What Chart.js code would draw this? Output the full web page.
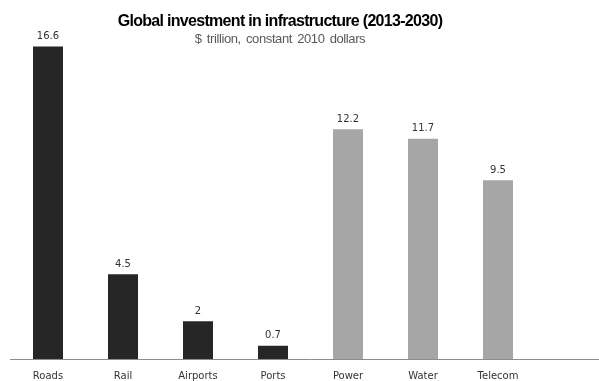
<!DOCTYPE html>
<html>
<head>
<meta charset="utf-8">
<script src="https://cdn.jsdelivr.net/npm/chart.js@4"></script>
<style>
  html, body { margin: 0; padding: 0; background: #fff; overflow: hidden; }
  .wrap { position: relative; width: 611px; height: 381px; }
  #chart { position: absolute; left: 0; top: 0; }
  .title {
    position: absolute; left: 0; width: 560px; text-align: center;
    font-family: "Liberation Sans", Arial, sans-serif;
  }
  #t1 { top: 12px; font-size: 16px; font-weight: bold; color: #000; letter-spacing: -0.7px; }
  #t2 { top: 31px; font-size: 13px; color: #595959; letter-spacing: -0.4px; word-spacing: 2px; }
</style>
</head>
<body>
<div class="wrap">
  <canvas id="chart" width="611" height="381"></canvas>
  <div class="title" id="t1">Global investment in infrastructure (2013-2030)</div>
  <div class="title" id="t2">$ trillion, constant 2010 dollars</div>
</div>
<script>
const categories = ["Roads", "Rail", "Airports", "Ports", "Power", "Water", "Telecom", ""];
const investment = [16.6, 4.5, 2, 0.7, 12.2, 11.7, 9.5, null];
const barColors = ["#262626", "#262626", "#262626", "#262626", "#a6a6a6", "#a6a6a6", "#a6a6a6", "#a6a6a6"];

// value labels above each bar
const valueLabels = {
  id: "valueLabels",
  afterDatasetsDraw(chart) {
    const ctx = chart.ctx;
    const meta = chart.getDatasetMeta(0);
    ctx.save();
    ctx.font = "10px 'DejaVu Sans', sans-serif";
    ctx.fillStyle = "#333";
    ctx.textAlign = "center";
    ctx.textBaseline = "middle";
    meta.data.forEach((bar, i) => {
      const v = investment[i];
      if (v == null) return;
      ctx.fillText(String(v), bar.x, bar.y - 10);
    });
    ctx.restore();
  },
};

const ctx = document.getElementById("chart").getContext("2d");
new Chart(ctx, {
  type: "bar",
  data: {
    labels: categories,
    datasets: [
      {
        data: investment,
        backgroundColor: barColors,
        barPercentage: 0.4,
        categoryPercentage: 1,
      },
    ],
  },
  options: {
    responsive: false,
    animation: false,
    layout: { padding: { left: 10.5, right: 0.5, top: 39, bottom: 0 } },
    plugins: {
      legend: { display: false },
      tooltip: { enabled: false },
    },
    scales: {
      x: {
        grid: { display: false, drawTicks: false },
        border: { color: "#8c8c8c", width: 1 },
        ticks: {
          color: "#333",
          font: { family: "'DejaVu Sans', sans-serif", size: 10 },
          padding: 11,
          maxRotation: 0,
          autoSkip: false,
        },
        afterFit(scale) {
          scale.height = 22;
        },
      },
      y: {
        display: false,
        min: 0,
        max: 17,
      },
    },
  },
  plugins: [valueLabels],
});
</script>
</body>
</html>
